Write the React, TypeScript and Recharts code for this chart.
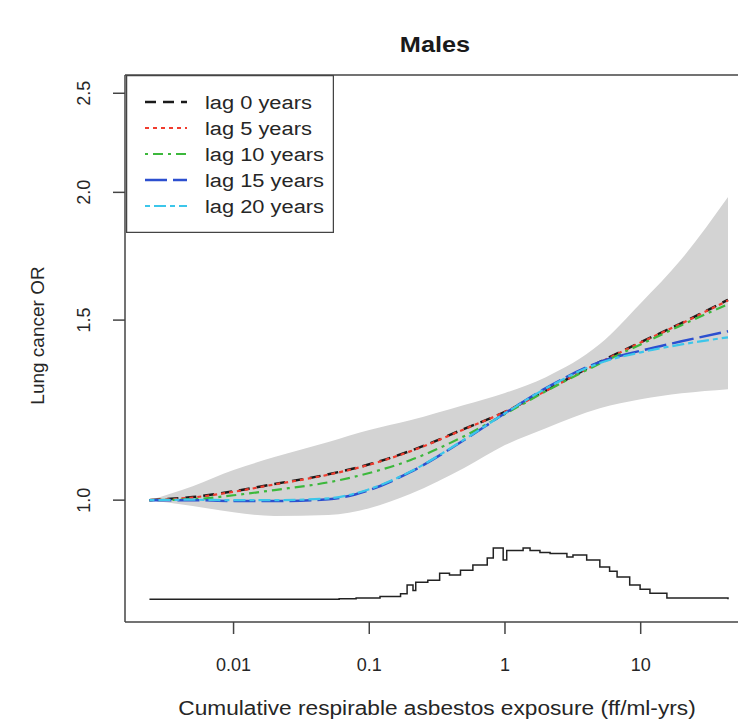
import { ComposedChart, Line, Area, XAxis, YAxis, ReferenceLine, Legend } from 'recharts'

// exposure grid (ff/ml-yrs) for the fitted curves
const exposure = [0.0024, 0.005, 0.01, 0.02, 0.05, 0.1, 0.2, 0.5, 1, 2, 5, 10, 20, 44]

const lag0 = [1.0, 1.007, 1.02, 1.037, 1.06, 1.084, 1.117, 1.174, 1.22, 1.28, 1.365, 1.427, 1.49, 1.57]
const lag5 = [1.0, 1.006, 1.019, 1.036, 1.059, 1.083, 1.116, 1.173, 1.22, 1.279, 1.364, 1.426, 1.489, 1.568]
const lag10 = [1.0, 1.002, 1.011, 1.023, 1.041, 1.063, 1.094, 1.155, 1.214, 1.278, 1.36, 1.42, 1.483, 1.555]
const lag15 = [1.0, 1.0, 0.998, 0.998, 1.002, 1.023, 1.065, 1.145, 1.216, 1.287, 1.365, 1.4, 1.43, 1.463]
const lag20 = [1.0, 1.001, 1.0, 1.0, 1.004, 1.025, 1.066, 1.146, 1.216, 1.286, 1.362, 1.395, 1.42, 1.443]

// 95% band around the lag 0 curve
const ciLower = [1.0, 0.987, 0.973, 0.965, 0.967, 0.982, 1.014, 1.075, 1.132, 1.176, 1.23, 1.255, 1.272, 1.284]
const ciUpper = [1.0, 1.032, 1.07, 1.102, 1.14, 1.171, 1.197, 1.239, 1.273, 1.319, 1.421, 1.558, 1.721, 1.979]

// exposure distribution drawn as a step line under the curves
const histX = [0.0024, 0.06, 0.08, 0.12, 0.17, 0.19, 0.21, 0.22, 0.27, 0.33, 0.39, 0.47, 0.58, 0.74, 0.82, 0.92, 0.97, 1.03, 1.29, 1.36, 1.53, 1.81, 2.15, 2.86, 3.17, 4.0, 5.0, 5.9, 6.7, 8.3, 9.9, 11.7, 15.6, 44]
const histY = [0.8, 0.801, 0.802, 0.805, 0.81, 0.826, 0.816, 0.831, 0.835, 0.848, 0.845, 0.854, 0.864, 0.878, 0.898, 0.898, 0.874, 0.893, 0.893, 0.898, 0.893, 0.889, 0.887, 0.88, 0.884, 0.874, 0.86, 0.852, 0.841, 0.826, 0.818, 0.811, 0.802, 0.8]

const xTicks = [0.01, 0.1, 1, 10]
const xTickLabels = ['0.01', '0.1', '1', '10']
const yTicks = [1.0, 1.5, 2.0, 2.5]

const SERIES = [
  { key: 'lag0', name: 'lag 0 years', color: '#1a1a1a', dash: '11 7', width: 2.5 },
  { key: 'lag5', name: 'lag 5 years', color: '#f03c2e', dash: '4 4', width: 2.2 },
  { key: 'lag10', name: 'lag 10 years', color: '#3cb83c', dash: '3 5 10 5', width: 2.2 },
  { key: 'lag15', name: 'lag 15 years', color: '#2c4fcf', dash: '22 6', width: 2.5 },
  { key: 'lag20', name: 'lag 20 years', color: '#3cc6ea', dash: '5 4 12 4', width: 2.2 },
]

const curves: Record<string, number[]> = { lag0, lag5, lag10, lag15, lag20 }

const data = exposure.map((x, i) => {
  const row: Record<string, any> = { x, band: [ciLower[i], ciUpper[i]] }
  for (const s of SERIES) row[s.key] = curves[s.key][i]
  return row
})

const histData = histX.map((x, i) => ({ x, h: histY[i] }))

const FONT = '"Liberation Sans", Arial, sans-serif'
const INK = '#262626'

// the source figure is a bit wider than tall, so some text is stretched sideways
function WideText({ x, y, sx, children, ...rest }: any) {
  return (
    <text transform={`translate(${x} ${y}) scale(${sx} 1)`} x={0} y={0} fontFamily={FONT} fill={INK} {...rest}>
      {children}
    </text>
  )
}

function XTick({ x, y, payload }: any) {
  const idx = xTicks.indexOf(payload.value)
  return (
    <text x={x} y={y + 35} textAnchor="middle" fontSize={18} fill={INK} fontFamily={FONT}>
      {xTickLabels[idx] ?? String(payload.value)}
    </text>
  )
}

function YTick({ x, y, payload }: any) {
  const tx = x - 21
  return (
    <text x={tx} y={y} textAnchor="middle" fontSize={18} fill={INK} fontFamily={FONT} transform={`rotate(-90, ${tx}, ${y})`}>
      {Number(payload.value).toFixed(1)}
    </text>
  )
}

function LegendBox() {
  return (
    <svg width={208} height={158} style={{ display: 'block' }}>
      <rect x={0.5} y={0.5} width={207} height={157} fill="#fff" stroke="#444" strokeWidth={1.5} />
      {SERIES.map((s, i) => {
        const cy = 27 + i * 26
        return (
          <g key={s.key}>
            <line x1={19} x2={61} y1={cy} y2={cy} stroke={s.color} strokeWidth={s.width} strokeDasharray={s.dash} />
            <WideText x={79} y={cy + 7} sx={1.15} fontSize={19}>{s.name}</WideText>
          </g>
        )
      })}
    </svg>
  )
}

export default function App() {
  return (
    <div style={{ position: 'absolute', left: 0, top: 0, width: 738, height: 723, overflow: 'hidden', background: '#fff', fontFamily: FONT }}>
      <div style={{ position: 'absolute', left: 335, top: 32, width: 200, textAlign: 'center', fontSize: 22, fontWeight: 'bold', color: '#1a1a1a', transform: 'scaleX(1.15)' }}>
        Males
      </div>
      <ComposedChart width={750} height={723} data={data} margin={{ top: 75, right: 5, bottom: 0, left: 0 }}>
        <XAxis
          dataKey="x"
          type="number"
          scale="log"
          domain={[0.001585, 58.7]}
          allowDataOverflow
          ticks={xTicks}
          tick={<XTick />}
          tickSize={12}
          height={101}
          axisLine={{ stroke: '#444', strokeWidth: 1.5 }}
          tickLine={{ stroke: '#444', strokeWidth: 1.5 }}
          label={({ viewBox }: any) => (
            <WideText x={viewBox.x + viewBox.width / 2 + 2} y={viewBox.y + 93} sx={1.08} textAnchor="middle" fontSize={21}>
              Cumulative respirable asbestos exposure (ff/ml-yrs)
            </WideText>
          )}
        />
        <YAxis
          type="number"
          scale="log"
          domain={[0.76, 2.605]}
          allowDataOverflow
          ticks={yTicks}
          tick={<YTick />}
          tickSize={12}
          width={125}
          axisLine={{ stroke: '#444', strokeWidth: 1.5 }}
          tickLine={{ stroke: '#444', strokeWidth: 1.5 }}
          label={({ viewBox }: any) => {
            const cx = 44
            const cy = viewBox.y + viewBox.height / 2 - 13
            return (
              <text x={cx} y={cy} textAnchor="middle" fontSize={19} fill={INK} fontFamily={FONT} transform={`rotate(-90, ${cx}, ${cy})`}>
                Lung cancer OR
              </text>
            )
          }}
        />
        <ReferenceLine y={2.605} stroke="#444" strokeWidth={1.5} />
        <Area dataKey="band" type="monotone" fill="#d3d3d3" fillOpacity={1} stroke="none" isAnimationActive={false} legendType="none" />
        {SERIES.map((s) => (
          <Line
            key={s.key}
            dataKey={s.key}
            name={s.name}
            type="monotone"
            stroke={s.color}
            strokeWidth={s.width}
            strokeDasharray={s.dash}
            dot={false}
            isAnimationActive={false}
          />
        ))}
        <Line data={histData} dataKey="h" type="stepAfter" stroke="#222" strokeWidth={1.5} dot={false} isAnimationActive={false} legendType="none" />
        <Legend
          layout="horizontal"
          verticalAlign="middle"
          align="center"
          wrapperStyle={{ position: 'absolute', left: 126, top: 75, width: 208, height: 158 }}
          content={() => <LegendBox />}
        />
      </ComposedChart>
    </div>
  )
}
